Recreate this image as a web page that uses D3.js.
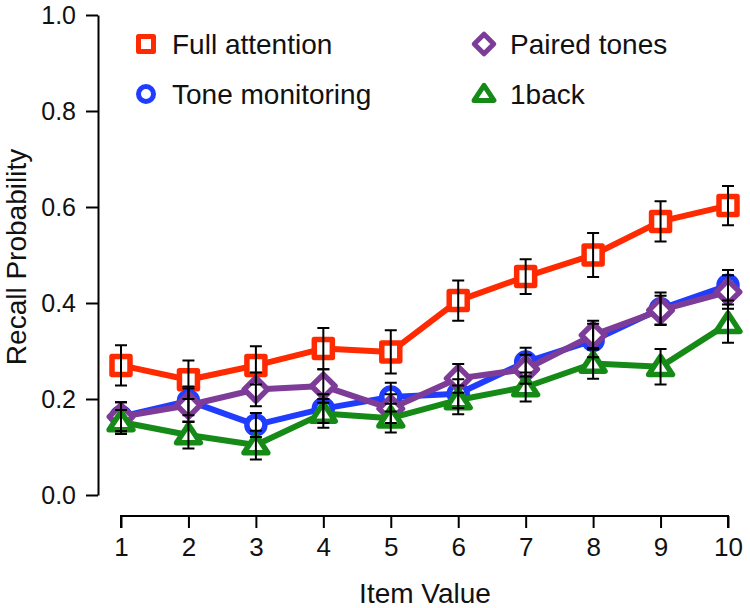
<!DOCTYPE html>
<html>
<head>
<meta charset="utf-8">
<script src="https://cdn.jsdelivr.net/npm/d3@7"></script>
<style>
  html, body { margin: 0; padding: 0; background: #fff; }
  svg { display: block; font-family: "Liberation Sans", Arial, Helvetica, sans-serif; }
</style>
</head>
<body>
<svg id="chart" width="750" height="608"></svg>
<script>
const categories = [1, 2, 3, 4, 5, 6, 7, 8, 9, 10];
const fullAttention = [0.27, 0.24, 0.27, 0.305, 0.298, 0.405, 0.455, 0.50, 0.57, 0.603];
const fullAttentionErr = [0.042, 0.04, 0.04, 0.043, 0.045, 0.042, 0.036, 0.046, 0.042, 0.041];
const toneMonitoring = [0.163, 0.196, 0.146, 0.18, 0.204, 0.211, 0.277, 0.322, 0.388, 0.437];
const toneMonitoringErr = [0.03, 0.03, 0.025, 0.03, 0.03, 0.03, 0.03, 0.035, 0.034, 0.032];
const pairedTones = [0.163, 0.187, 0.22, 0.227, 0.18, 0.243, 0.262, 0.333, 0.385, 0.423];
const pairedTonesErr = [0.03, 0.035, 0.035, 0.035, 0.03, 0.03, 0.03, 0.03, 0.03, 0.035];
const oneBack = [0.152, 0.125, 0.104, 0.17, 0.16, 0.198, 0.225, 0.274, 0.267, 0.357];
const oneBackErr = [0.025, 0.028, 0.03, 0.03, 0.03, 0.03, 0.03, 0.032, 0.037, 0.04];
const yTicks = [0.0, 0.2, 0.4, 0.6, 0.8, 1.0];
const seriesNames = ["Full attention", "Tone monitoring", "Paired tones", "1back"];

const colors = {
  "Full attention": "#ff2a00",
  "Tone monitoring": "#1f3cff",
  "Paired tones": "#7d3c98",
  "1back": "#168a16"
};
const shapes = {
  "Full attention": "square",
  "Tone monitoring": "circle",
  "Paired tones": "diamond",
  "1back": "triangle"
};
const series = [
  { name: "Full attention", values: fullAttention, err: fullAttentionErr },
  { name: "Tone monitoring", values: toneMonitoring, err: toneMonitoringErr },
  { name: "Paired tones", values: pairedTones, err: pairedTonesErr },
  { name: "1back", values: oneBack, err: oneBackErr }
];

const svg = d3.select("#chart");
const x = d3.scaleLinear().domain([1, 10]).range([121, 728]);
const y = d3.scaleLinear().domain([0, 1]).range([495, 15]);

function markerPath(shape, s) {
  if (shape === "square") return `M${-s},${-s}H${s}V${s}H${-s}Z`;
  if (shape === "circle") return `M${s},0A${s},${s} 0 1,1 ${-s},0A${s},${s} 0 1,1 ${s},0Z`;
  if (shape === "diamond") { const d = s * 1.3; return `M0,${-d}L${d},0L0,${d}L${-d},0Z`; }
  if (shape === "triangle") { const h = s * 1.15; return `M0,${-h}L${h * 1.15},${h * 0.75}L${-h * 1.15},${h * 0.75}Z`; }
}

// Y axis
const yAxis = d3.axisLeft(y).tickValues(yTicks).tickFormat(d3.format(".1f")).tickSize(12).tickSizeOuter(0).tickPadding(10);
const gy = svg.append("g").attr("transform", "translate(98,0)").call(yAxis);
gy.select(".domain").attr("stroke", "#000").attr("stroke-width", 2);
gy.selectAll(".tick line").attr("stroke", "#000").attr("stroke-width", 2);
gy.selectAll(".tick text").attr("font-size", 25).attr("fill", "#111").attr("font-family", "Liberation Sans, Arial, sans-serif");

// X axis
const xAxis = d3.axisBottom(x).tickValues(categories).tickFormat(d3.format("d")).tickSize(12).tickSizeOuter(0).tickPadding(10);
const gx = svg.append("g").attr("transform", "translate(0,516)").call(xAxis);
gx.select(".domain").attr("stroke", "#000").attr("stroke-width", 2).attr("d", `M${x(1)},12V0H${x(10)}V12`);
gx.selectAll(".tick line").attr("stroke", "#000").attr("stroke-width", 2);
gx.selectAll(".tick text").attr("font-size", 26).attr("fill", "#111").attr("font-family", "Liberation Sans, Arial, sans-serif");

// Axis labels
svg.append("text").attr("x", 425).attr("y", 603).attr("text-anchor", "middle")
  .attr("font-size", 28).attr("fill", "#111").text("Item Value");
svg.append("text").attr("transform", "translate(26,257) rotate(-90)").attr("text-anchor", "middle")
  .attr("font-size", 28).attr("fill", "#111").text("Recall Probability");

// Lines + markers
const line = d3.line().x((d, i) => x(categories[i])).y(d => y(d));
series.forEach(s => {
  const g = svg.append("g");
  g.append("path").attr("d", line(s.values)).attr("fill", "none")
    .attr("stroke", colors[s.name]).attr("stroke-width", 6).attr("stroke-linejoin", "round");
  g.selectAll("path.m").data(s.values).enter().append("path").attr("class", "m")
    .attr("transform", (d, i) => `translate(${x(categories[i])},${y(d)})`)
    .attr("d", markerPath(shapes[s.name], 9))
    .attr("fill", "#fff").attr("stroke", colors[s.name]).attr("stroke-width", 5.5)
    .attr("stroke-linejoin", "round");
});

// Error bars
series.forEach(s => {
  const g = svg.append("g").attr("stroke", "#000").attr("stroke-width", 2).attr("fill", "none");
  s.values.forEach((v, i) => {
    const cx = x(categories[i]);
    const y1 = y(v + s.err[i]), y2 = y(v - s.err[i]);
    g.append("path").attr("d", `M${cx},${y1}V${y2}M${cx - 6},${y1}H${cx + 6}M${cx - 6},${y2}H${cx + 6}`);
  });
});

// Legend
const legendPos = [
  { name: "Full attention", mx: 146, my: 44 },
  { name: "Tone monitoring", mx: 146, my: 94 },
  { name: "Paired tones", mx: 484, my: 44 },
  { name: "1back", mx: 484, my: 94 }
];
legendPos.forEach(l => {
  svg.append("path").attr("transform", `translate(${l.mx},${l.my})`)
    .attr("d", markerPath(shapes[l.name], 7.5))
    .attr("fill", "#fff").attr("stroke", colors[l.name]).attr("stroke-width", 5).attr("stroke-linejoin", "round");
  svg.append("text").attr("x", l.mx + 26).attr("y", l.my + 10).attr("font-size", 28)
    .attr("fill", "#111").text(l.name);
});
</script>
</body>
</html>
